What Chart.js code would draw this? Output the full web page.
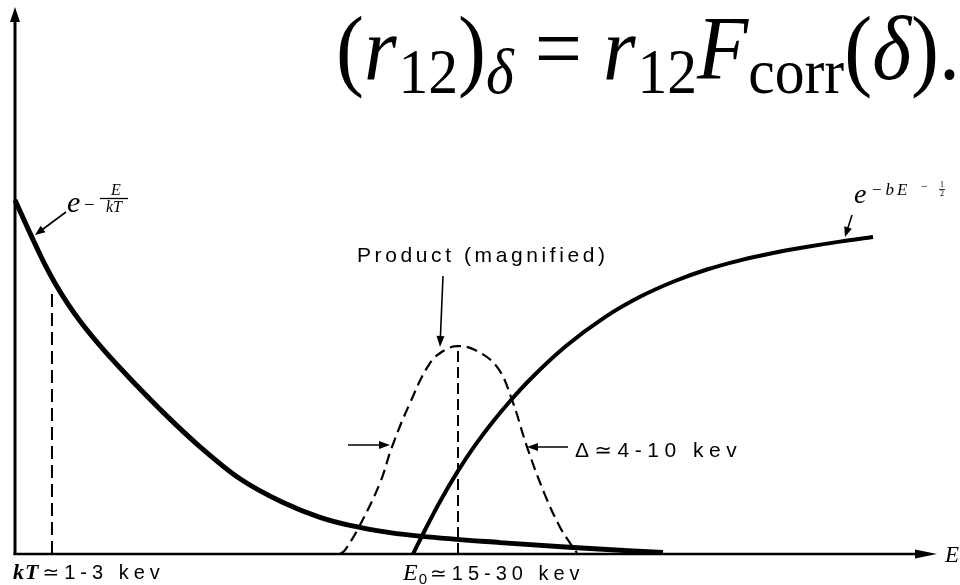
<!DOCTYPE html>
<html>
<head>
<meta charset="utf-8">
<script src="https://cdn.jsdelivr.net/npm/chart.js@4.4.1/dist/chart.umd.min.js"></script>
<style>
  html, body { margin: 0; padding: 0; background: #fff; }
  canvas { display: block; }
</style>
</head>
<body>
<canvas id="c" width="960" height="585"></canvas>
<script>
// Energy axis runs 0..100 (arbitrary units), ordinate 0..100.

// Maxwell-Boltzmann factor e^{-E/kT}
const maxwellE = [0, 1.84, 3.25, 4.34, 5.75, 7.38, 9.76, 12.47, 16.49, 20.07, 24.40, 29.07, 33.08, 36.33, 40.67, 44.14, 52.60, 60.52, 70.28];
const maxwellY = [64.72, 57.88, 52.89, 49.51, 45.70, 41.86, 37.04, 32.10, 25.21, 19.60, 13.75, 9.41, 6.71, 5.23, 3.91, 3.22, 2.08, 1.17, 0.27];

// Barrier penetration factor e^{-bE^{-1/2}}
const gamowE = [43.17, 44.47, 46.10, 48.05, 49.89, 51.74, 53.80, 55.86, 59.76, 63.99, 67.79, 71.58, 75.05, 78.63, 82.21, 85.79, 89.48, 93.06];
const gamowY = [0, 4.39, 9.60, 15.19, 19.85, 23.99, 28.15, 31.90, 38.01, 43.31, 47.02, 49.91, 52.01, 53.69, 55.03, 56.12, 57.11, 57.95];

// Product of the two factors (magnified) - the Gamow peak
const productE = [35.25, 35.79, 37.42, 39.59, 40.89, 42.84, 45.01, 46.64, 48.05, 49.89, 52.28, 53.90, 55.53, 57.48, 59.11, 60.20, 60.95];
const productY = [0, 0.7, 5.3, 13.0, 19.6, 27.6, 34.9, 37.3, 38.0, 37.3, 34.2, 28.2, 19.6, 10.8, 4.9, 2.0, 0.2];

// Marker lines at kT and at the peak energy E0
const kTMarkE = [4.01, 4.01];
const kTMarkY = [0, 48.0];
const peakMarkE = [48.05, 48.05];
const peakMarkY = [0, 38.0];

// Text
const axisLabelE = 'E';
const labelKT = ['kT', '\u22431-3 kev'];
const labelE0 = ['E', '0', '\u224315-30 kev'];
const labelProduct = 'Product (magnified)';
const labelWidth = '\u0394\u22434-10 kev';

const toPoints = (xs, ys) => xs.map((x, i) => ({ x, y: ys[i] }));

const SERIF = '"Liberation Serif", "DejaVu Serif", serif';
const SANS = '"Liberation Sans", "DejaVu Sans", sans-serif';

function arrowHead(ctx, x1, y1, x2, y2, len, half) {
  const a = Math.atan2(y2 - y1, x2 - x1);
  ctx.beginPath();
  ctx.moveTo(x2, y2);
  ctx.lineTo(x2 - len * Math.cos(a) + half * Math.sin(a), y2 - len * Math.sin(a) - half * Math.cos(a));
  ctx.lineTo(x2 - len * Math.cos(a) - half * Math.sin(a), y2 - len * Math.sin(a) + half * Math.cos(a));
  ctx.closePath();
  ctx.fill();
}

function arrow(ctx, x1, y1, x2, y2, width, len, half) {
  ctx.save();
  ctx.strokeStyle = '#000';
  ctx.fillStyle = '#000';
  ctx.lineWidth = width;
  const a = Math.atan2(y2 - y1, x2 - x1);
  ctx.beginPath();
  ctx.moveTo(x1, y1);
  ctx.lineTo(x2 - (len * 0.8) * Math.cos(a), y2 - (len * 0.8) * Math.sin(a));
  ctx.stroke();
  arrowHead(ctx, x1, y1, x2, y2, len, half);
  ctx.restore();
}

// Draw a sequence of text runs with their own fonts and baseline shifts
function runs(ctx, x, y, parts, spacing) {
  let cx = x;
  for (const p of parts) {
    ctx.font = p.f;
    ctx.letterSpacing = (p.ls != null ? p.ls : (spacing || 0)) + 'px';
    ctx.fillText(p.t, cx, y + (p.dy || 0));
    cx += ctx.measureText(p.t).width + (p.gap || 0);
  }
  ctx.letterSpacing = '0px';
  return cx - x;
}

function measureRuns(ctx, parts) {
  let w = 0;
  for (const p of parts) {
    ctx.font = p.f;
    ctx.letterSpacing = (p.ls || 0) + 'px';
    w += ctx.measureText(p.t).width + (p.gap || 0);
  }
  ctx.letterSpacing = '0px';
  return w;
}

const axesPlugin = {
  id: 'arrowAxes',
  beforeDatasetsDraw(chart) {
    const { ctx, chartArea: a } = chart;
    ctx.save();
    ctx.strokeStyle = '#000';
    ctx.fillStyle = '#000';
    ctx.lineCap = 'butt';
    // ordinate
    ctx.lineWidth = 3;
    ctx.beginPath();
    ctx.moveTo(a.left, a.bottom + 1);
    ctx.lineTo(a.left, a.top + 10);
    ctx.stroke();
    arrowHead(ctx, a.left, a.bottom, a.left, a.top, 15, 5);
    // energy axis
    ctx.lineWidth = 2.5;
    ctx.beginPath();
    ctx.moveTo(a.left - 1.5, a.bottom);
    ctx.lineTo(a.right - 12, a.bottom);
    ctx.stroke();
    arrowHead(ctx, a.left, a.bottom, a.right, a.bottom, 22, 4.5);
    ctx.restore();
  },
  afterDraw(chart) {
    const { ctx, chartArea: a } = chart;
    ctx.save();
    ctx.fillStyle = '#000';
    ctx.textBaseline = 'alphabetic';
    ctx.textAlign = 'left';

    // axis letter E
    ctx.font = 'italic 23px ' + SERIF;
    ctx.fillText(axisLabelE, a.right + 8, a.bottom + 8);

    // kT label under the axis
    runs(ctx, 13, 579, [
      { t: labelKT[0], f: 'italic bold 22px ' + SERIF, gap: 3, ls: 1 },
      { t: labelKT[1], f: '20px ' + SANS, ls: 5 }
    ]);

    // E0 label under the axis
    runs(ctx, 403, 580, [
      { t: labelE0[0], f: 'italic 24px ' + SERIF, gap: 1 },
      { t: labelE0[1], f: '15px ' + SANS, dy: 4, gap: 3 },
      { t: labelE0[2], f: '20px ' + SANS, ls: 5 }
    ]);

    // Product (magnified)
    ctx.font = '21px ' + SANS;
    ctx.letterSpacing = '3.6px';
    ctx.fillText(labelProduct, 357, 262);
    ctx.letterSpacing = '0px';
    arrow(ctx, 443, 276, 440, 347, 1.6, 11, 4);

    // width of the peak
    ctx.font = '21px ' + SANS;
    ctx.letterSpacing = '5.5px';
    ctx.fillText(labelWidth, 575, 457);
    ctx.letterSpacing = '0px';
    arrow(ctx, 348, 445, 390, 445, 1.6, 11, 4);
    arrow(ctx, 568, 447, 527, 447, 1.6, 11, 4);

    // e^{-E/kT}
    ctx.font = 'italic 30px ' + SERIF;
    ctx.fillText('e', 67, 212);
    ctx.font = '19px ' + SERIF;
    ctx.fillText('\u2212', 84, 211);
    ctx.font = 'italic 16px ' + SERIF;
    ctx.textAlign = 'center';
    ctx.fillText('E', 116, 195);
    ctx.fillText('kT', 114, 212);
    ctx.textAlign = 'left';
    ctx.lineWidth = 1.3;
    ctx.beginPath();
    ctx.moveTo(100, 198.5);
    ctx.lineTo(128, 198.5);
    ctx.stroke();
    arrow(ctx, 66, 212, 35, 235, 1.6, 10, 4);

    // e^{-bE^{-1/2}}
    ctx.font = 'italic 28px ' + SERIF;
    ctx.fillText('e', 854, 203);
    ctx.font = 'italic 17px ' + SERIF;
    ctx.letterSpacing = '3px';
    ctx.fillText('\u2212bE', 871, 195);
    ctx.letterSpacing = '0px';
    ctx.font = '12px ' + SERIF;
    ctx.fillText('\u2212', 921, 190);
    ctx.font = '8px ' + SERIF;
    ctx.textAlign = 'center';
    ctx.fillText('1', 942, 187);
    ctx.fillText('2', 942, 196);
    ctx.textAlign = 'left';
    ctx.lineWidth = 0.8;
    ctx.beginPath();
    ctx.moveTo(939, 189.5);
    ctx.lineTo(945, 189.5);
    ctx.stroke();
    arrow(ctx, 852, 215, 845, 237, 1.6, 10, 4);

    // displayed formula at the top
    const R = '90px ' + SERIF, I = 'italic 90px ' + SERIF;
    const RS = '64px ' + SERIF, IS = 'italic 64px ' + SERIF;
    const sub = 14;
    const formula = [
      { t: '(', f: R }, { t: 'r', f: I, gap: 2 }, { t: '12', f: RS, dy: sub }, { t: ')', f: R },
      { t: '\u03B4', f: IS, dy: sub }, { t: ' = ', f: R }, { t: 'r', f: I, gap: 2 },
      { t: '12', f: RS, dy: sub }, { t: 'F', f: I }, { t: 'corr', f: RS, dy: sub },
      { t: '(', f: R }, { t: '\u03B4', f: I }, { t: ')', f: R }, { t: '.', f: R }
    ];
    const w = measureRuns(ctx, formula);
    ctx.save();
    ctx.translate(336, 79);
    ctx.scale(624 / w, 1);
    runs(ctx, 0, 0, formula);
    ctx.restore();

    ctx.restore();
  }
};

new Chart(document.getElementById('c'), {
  type: 'scatter',
  data: {
    datasets: [
      {
        label: 'e^{-E/kT}',
        data: toPoints(maxwellE, maxwellY),
        showLine: true, borderColor: '#000', borderWidth: 5,
        pointRadius: 0, cubicInterpolationMode: 'monotone', clip: false
      },
      {
        label: 'e^{-bE^{-1/2}}',
        data: toPoints(gamowE, gamowY),
        showLine: true, borderColor: '#000', borderWidth: 4,
        pointRadius: 0, cubicInterpolationMode: 'monotone', clip: false
      },
      {
        label: 'Product (magnified)',
        data: toPoints(productE, productY),
        showLine: true, borderColor: '#000', borderWidth: 2.2, borderDash: [11, 6],
        pointRadius: 0, tension: 0.4, clip: false
      },
      {
        label: 'kT',
        data: toPoints(kTMarkE, kTMarkY),
        showLine: true, borderColor: '#000', borderWidth: 2, borderDash: [13, 6],
        pointRadius: 0, clip: false
      },
      {
        label: 'E0',
        data: toPoints(peakMarkE, peakMarkY),
        showLine: true, borderColor: '#000', borderWidth: 2, borderDash: [11, 5],
        pointRadius: 0, clip: false
      }
    ]
  },
  options: {
    responsive: false,
    animation: false,
    devicePixelRatio: 1,
    layout: { padding: { left: 15, top: 7, right: 23, bottom: 31 } },
    plugins: { legend: { display: false }, tooltip: { enabled: false }, title: { display: false } },
    scales: {
      x: { type: 'linear', min: 0, max: 100, display: false },
      y: { type: 'linear', min: 0, max: 100, display: false }
    }
  },
  plugins: [axesPlugin]
});
</script>
</body>
</html>
